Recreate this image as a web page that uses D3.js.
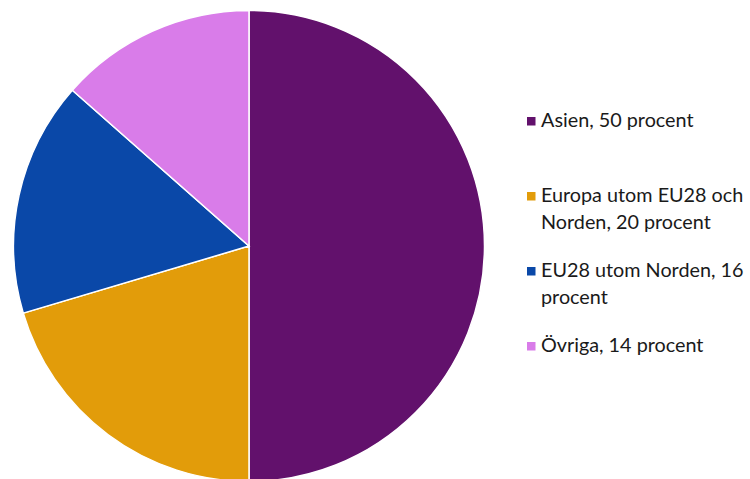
<!DOCTYPE html>
<html>
<head>
<meta charset="utf-8">
<script src="https://cdn.jsdelivr.net/npm/d3@7"></script>
<style>
  body { margin: 0; background: #fff; }
  text { font-family: "Lato", "Open Sans", sans-serif; fill: #1a1a1a; }
</style>
</head>
<body>
<div id="pie_chart"></div>
<script>
// data (slice angles), legend shows rounded values
const regions = ["Asien", "Europa utom EU28 och Norden", "EU28 utom Norden", "Övriga"];
const shares = [50.0, 20.4, 16.1, 13.5];
const colors = ["#62116c", "#e29c0a", "#0a48a8", "#d97ce9"];
// legend lines as wrapped in the original
const legendLines = [
  ["Asien, 50 procent"],
  ["Europa utom EU28 och", "Norden, 20 procent"],
  ["EU28 utom Norden, 16", "procent"],
  ["Övriga, 14 procent"]
];

const width = 750, height = 479;
const cx = 249, cy = 246, radius = 235.5;

const svg = d3.select("#pie_chart")
  .append("svg")
  .attr("width", width)
  .attr("height", height);

const data = regions.map((r, i) => ({ region: r, share: shares[i], color: colors[i] }));

const pie = d3.pie().value(d => d.share).sort(null);
const arc = d3.arc().innerRadius(0).outerRadius(radius);

const g = svg.append("g").attr("transform", "translate(" + cx + "," + cy + ")");

g.selectAll("path")
  .data(pie(data))
  .enter()
  .append("path")
  .attr("d", arc)
  .attr("fill", d => d.data.color)
  .attr("stroke", "#fff")
  .attr("stroke-width", 1.5);

// legend
const rowY = [127, 202, 277, 352];
const lineH = 26.5;
const legend = svg.append("g").attr("id", "legend");

data.forEach((d, i) => {
  legend.append("rect")
    .attr("x", 527)
    .attr("y", rowY[i] - 10)
    .attr("width", 8.5)
    .attr("height", 8.5)
    .attr("fill", d.color);
  const t = legend.append("text")
    .attr("x", 541)
    .attr("y", rowY[i])
    .style("font-size", "19.8px");
  legendLines[i].forEach((line, j) => {
    t.append("tspan")
      .attr("x", 541)
      .attr("y", rowY[i] + j * lineH)
      .text(line);
  });
});
</script>
</body>
</html>
